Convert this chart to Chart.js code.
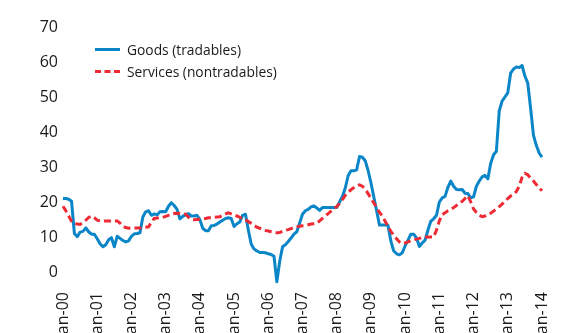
<!DOCTYPE html>
<html>
<head>
<meta charset="utf-8">
<script src="https://cdn.jsdelivr.net/npm/chart.js@4.4.0/dist/chart.umd.min.js"></script>
<style>
  html, body { margin: 0; padding: 0; background: #ffffff; overflow: hidden; }
  #wrap { position: absolute; left: 0; top: 0; width: 577px; height: 400px; }
  #legend { position: absolute; left: 95px; top: 38px; font-family: "Open Sans", sans-serif; font-size: 13.8px; color: #1a1a1a; }
  .item { display: flex; align-items: center; height: 22px; }
  .sw { width: 25px; height: 0; margin-right: 7px; }
  .sw.blue { border-top: 3px solid #0a86c8; }
  .sw.red { border-top: 3px dashed #ee2a35; }
</style>
</head>
<body>
<div id="wrap">
  <canvas id="c" width="577" height="400"></canvas>
  <div id="legend">
    <div class="item"><div class="sw blue"></div><span id="lg0"></span></div>
    <div class="item"><div class="sw red"></div><span id="lg1"></span></div>
  </div>
</div>
<script>
// ---- data ----
const years = ["00","01","02","03","04","05","06","07","08","09","10","11","12","13","14"];
const monthNames = ["Jan","Feb","Mar","Apr","May","Jun","Jul","Aug","Sep","Oct","Nov","Dec"];
const seriesNames = ["Goods (tradables)", "Services (nontradables)"];
const yTicks = [0, 10, 20, 30, 40, 50, 60, 70];

// monthly, Jan-00 .. Jan-14
const goods = [
  21, 21, 20.8, 20.2, 11, 10.1, 11.4, 11.6, 12.6, 11.5, 10.8, 10.8,
  9.5, 8.1, 7.2, 7.8, 9.2, 9.8, 7.2, 10.2, 9.6, 9, 8.6, 8.9,
  10.2, 10.9, 11, 11.2, 15.7, 17.2, 17.5, 16.2, 16.6, 16.3, 17.2, 17.3,
  17.2, 18.8, 19.8, 19, 17.9, 15.2, 15.9, 16.4, 16.7, 16, 16, 16.2,
  15, 12.5, 11.8, 11.8, 13.2, 13.3, 13.7, 14.3, 14.8, 15.3, 15.5, 15.3,
  13, 13.8, 14.3, 16.2, 16.5, 12, 8, 6.6, 6, 5.6, 5.6, 5.5,
  5.2, 5, 4.5, -2.8, 3, 7.2, 7.8, 8.7, 9.7, 10.8, 11.5, 14,
  16.5, 17.5, 17.9, 18.6, 18.9, 18.3, 17.6, 18.4, 18.4, 18.4, 18.4, 18.4,
  18.4, 20, 21.6, 24, 27.5, 28.9, 28.9, 29.2, 33, 32.8, 31.8, 29,
  25.5, 21.5, 17.5, 13.4, 13.4, 13.4, 13.3, 8.8, 6, 5.2, 4.9, 5.5,
  7.5, 9.1, 10.8, 10.8, 9.7, 7.3, 8.3, 9.1, 12, 14.5, 15.2, 16.2,
  20, 21.2, 21.6, 24.2, 26, 24.5, 23.6, 23.5, 23.6, 22.5, 22.4, 21.2,
  21.5, 24.5, 26, 27.2, 27.6, 26.6, 31, 33.5, 34.5, 46, 48.8, 50,
  51.2, 56.8, 58, 58.6, 58.4, 59, 56, 54, 46.8, 39.1, 36.2, 34,
  32.8
];
const services = [
  18.8, 17.5, 16, 14.5, 13.8, 13.7, 13.6, 14.2, 14.8, 15.6, 16, 15.5,
  14.8, 14.6, 14.6, 14.6, 14.6, 14.6, 14.6, 14.6, 14, 13.1, 12.7, 12.5,
  12.6, 12.6, 12.6, 12.6, 12.7, 12.8, 12.9, 14.2, 15.3, 15.4, 15.5, 15.6,
  15.9, 16.2, 16.5, 16.7, 16.8, 16.7, 16.6, 16.5, 15.7, 15, 14.9, 15,
  15.1, 15.2, 15.3, 15.5, 15.5, 15.6, 15.7, 15.8, 16.2, 16.6, 16.9, 16.6,
  16.3, 16, 15.6, 15.3, 14.9, 14.4, 13.9, 13.3, 12.8, 12.5, 12.2, 11.9,
  11.7, 11.5, 11.3, 11.2, 11.3, 11.6, 11.9, 12.1, 12.4, 12.7, 12.9, 13.1,
  13.2, 13.3, 13.5, 13.7, 13.8, 13.9, 14.6, 15.3, 16, 16.7, 17.4, 18,
  18.7, 19.6, 20.7, 21.9, 22.8, 23.5, 24.1, 24.6, 24.9, 24.5, 23.7, 22.4,
  21.1, 19.8, 18.4, 17, 16, 14.5, 13, 11.6, 10.5, 9.5, 8.6, 8.1,
  8.3, 8.6, 8.9, 9.2, 9.4, 9.6, 9.9, 10, 10, 10, 10, 12,
  14.6, 16.4, 16.9, 17.5, 17.9, 18.4, 19, 19.5, 20.2, 21, 21.8, 20,
  18, 17, 16.2, 15.8, 16, 16.5, 16.8, 17.4, 18, 18.7, 19.4, 20.2,
  21, 21.7, 22.2, 23, 24.5, 27, 28.2, 27.8, 26.8, 26, 25, 24,
  23.2
];

// category labels (one per month)
const labels = [];
years.forEach((y, i) => {
  monthNames.forEach((m, j) => {
    if (i < years.length - 1 || j === 0) labels.push(m + "-" + y);
  });
});

document.getElementById("lg0").textContent = seriesNames[0];
document.getElementById("lg1").textContent = seriesNames[1];

const FONT = "'Open Sans', sans-serif";

new Chart(document.getElementById("c"), {
  type: "line",
  data: {
    labels: labels,
    datasets: [
      {
        label: seriesNames[1],
        data: services,
        borderColor: "#ee2a35",
        borderWidth: 3,
        borderDash: [7, 4],
        pointRadius: 0,
        fill: false,
        tension: 0
      },
      {
        label: seriesNames[0],
        data: goods,
        borderColor: "#0a86c8",
        borderWidth: 3,
        pointRadius: 0,
        fill: false,
        tension: 0,
        borderJoinStyle: "round"
      }
    ]
  },
  options: {
    responsive: false,
    animation: false,
    devicePixelRatio: 1,
    layout: { padding: { top: 27, right: 35, left: 0, bottom: 0 } },
    plugins: { legend: { display: false }, tooltip: { enabled: false } },
    scales: {
      x: {
        type: "category",
        offset: false,
        grid: { display: false, drawTicks: false },
        border: { display: false },
        afterFit: (s) => { s.height = 114; },
        ticks: {
          autoSkip: false,
          minRotation: 90,
          maxRotation: 90,
          padding: 6,
          color: "#1a1a1a",
          font: { family: FONT, size: 16 },
          callback: function (v, i) {
            const l = labels[i];
            return l.startsWith("Jan") ? l : "";
          }
        }
      },
      y: {
        min: -4,
        max: 70,
        grid: { display: false, drawTicks: false },
        border: { display: false },
        afterFit: (s) => { s.width = 63; },
        afterBuildTicks: (s) => { s.ticks = yTicks.map(v => ({ value: v })); },
        ticks: {
          padding: 5,
          color: "#1a1a1a",
          font: { family: FONT, size: 16 }
        }
      }
    }
  }
});
</script>
</body>
</html>
